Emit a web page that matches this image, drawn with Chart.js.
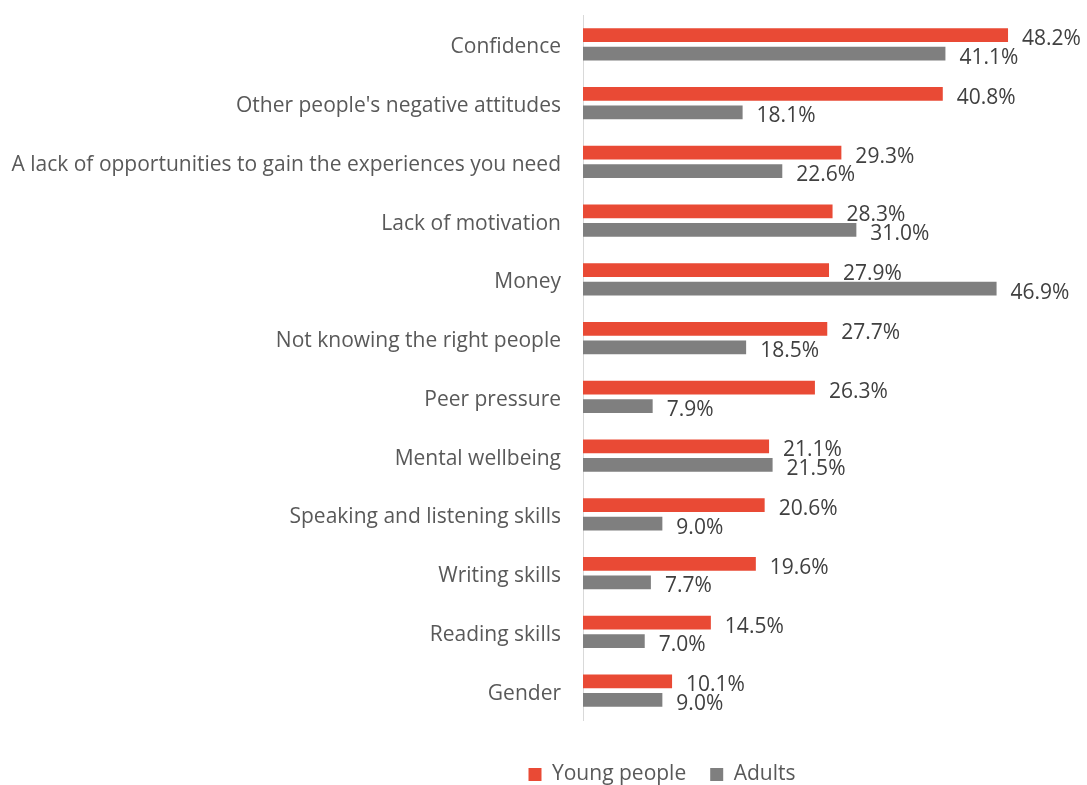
<!DOCTYPE html>
<html>
<head>
<meta charset="utf-8">
<script src="https://cdn.jsdelivr.net/npm/chart.js@4/dist/chart.umd.min.js"></script>
<style>
  html, body { margin: 0; padding: 0; background: #fff; }
  #wrap { width: 1087px; height: 785px; position: relative; }
</style>
</head>
<body>
<div id="wrap"><canvas id="barriers"></canvas></div>
<script>
// Barriers categories, top to bottom
const categories = [
    "Confidence",
    "Other people's negative attitudes",
    "A lack of opportunities to gain the experiences you need",
    "Lack of motivation",
    "Money",
    "Not knowing the right people",
    "Peer pressure",
    "Mental wellbeing",
    "Speaking and listening skills",
    "Writing skills",
    "Reading skills",
    "Gender"
]

// Percent of respondents
const youngPeople = [48.2, 40.8, 29.3, 28.3, 27.9, 27.7, 26.3, 21.1, 20.6, 19.6, 14.5, 10.1]
const adults = [41.1, 18.1, 22.6, 31.0, 46.9, 18.5, 7.9, 21.5, 9.0, 7.7, 7.0, 9.0]

const FONT = "'Open Sans', sans-serif"
const SIZE = 21

// Writes the value next to the end of each bar
const valueLabels = {
    id: 'valueLabels',
    afterDatasetsDraw(chart) {
        const ctx = chart.ctx
        ctx.save()
        ctx.font = SIZE + "px " + FONT
        ctx.fillStyle = "#404040"
        ctx.textAlign = "left"
        ctx.textBaseline = "middle"
        chart.data.datasets.forEach((ds, i) => {
            chart.getDatasetMeta(i).data.forEach((bar, j) => {
                ctx.fillText(ds.data[j].toFixed(1) + "%", bar.x + 14, bar.y + 4)
            })
        })
        ctx.restore()
    }
}

// Legend sits under the bars, not under the whole canvas
const legendShift = {
    id: 'legendShift',
    afterLayout(chart) {
        const lg = chart.legend
        if (!lg) return
        lg.left += 123
        lg.right += 123
        lg.top += 20
        lg.bottom += 20
    }
}

new Chart(
    document.getElementById("barriers"),
    {
        type: 'bar',
        data: {
            labels: categories,
            datasets: [
                {
                    label: "Young people",
                    data: youngPeople,
                    backgroundColor: "#E94A35",
                    categoryPercentage: 0.63,
                    barPercentage: 0.73
                },
                {
                    label: "Adults",
                    data: adults,
                    backgroundColor: "#7F7F7F",
                    categoryPercentage: 0.63,
                    barPercentage: 0.73
                }
            ]
        },
        options: {
            indexAxis: 'y',
            responsive: true,
            maintainAspectRatio: false,
            animation: false,
            layout: {
                padding: { top: 15, left: 10, right: 19, bottom: 10 }
            },
            scales: {
                x: {
                    display: false,
                    min: 0,
                    max: 55
                },
                y: {
                    grid: { display: false, drawTicks: false },
                    border: { display: true, color: "#D9D9D9", width: 1 },
                    ticks: {
                        padding: 22,
                        labelOffset: 3,
                        color: "#595959",
                        font: { family: FONT, size: SIZE }
                    },
                    afterFit(scale) {
                        scale.width = 573
                        scale.paddingTop = 0
                        scale.paddingBottom = 0
                    }
                }
            },
            plugins: {
                legend: {
                    position: 'bottom',
                    labels: {
                        boxWidth: 13,
                        boxHeight: 13,
                        padding: 24,
                        color: "#595959",
                        font: { family: FONT, size: SIZE }
                    }
                },
                tooltip: { enabled: false }
            }
        },
        plugins: [valueLabels, legendShift]
    }
)
</script>
</body>
</html>
